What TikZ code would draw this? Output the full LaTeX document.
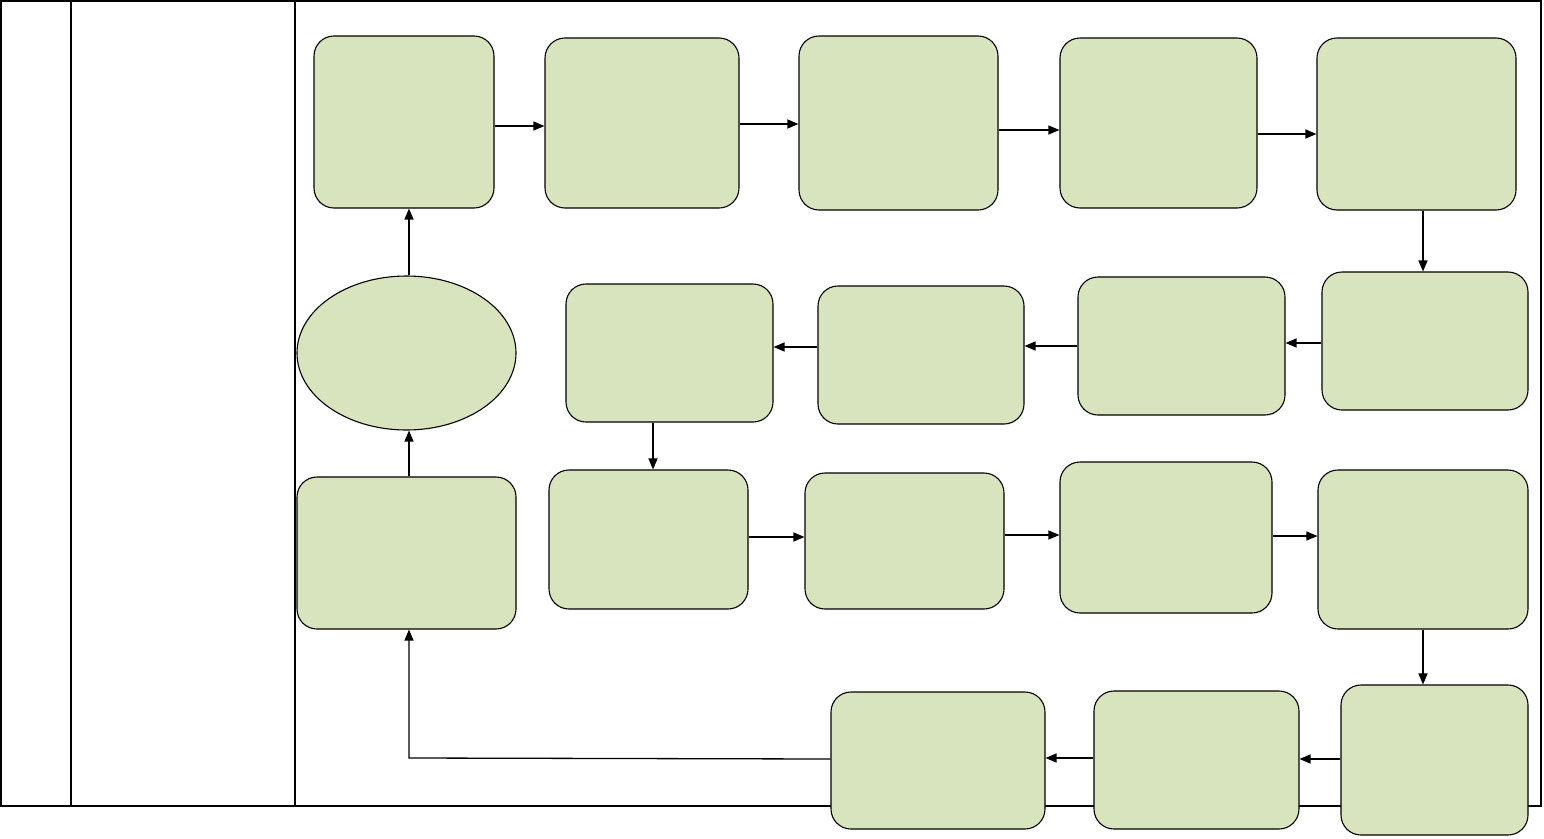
\documentclass[tikz,border=0pt]{standalone}
\usetikzlibrary{arrows.meta,shapes.geometric}
\definecolor{boxgreen}{RGB}{215,228,189}
\tikzset{
  gbox/.style={draw, fill=boxgreen, rounded corners=20pt, line width=1.1pt, inner sep=0pt},
  gell/.style={draw, fill=boxgreen, ellipse, line width=1.1pt, inner sep=0pt},
  arr/.style={line width=1.3pt, -{Triangle[length=11pt,width=9pt]}},
  frame/.style={line width=1.5pt}
}
\begin{document}
\begin{tikzpicture}[x=1pt,y=-1pt]
\useasboundingbox (0,0) rectangle (1544,838);
% table frame
\draw[frame] (1,1) rectangle (1541,806);
\draw[frame] (71,1) -- (71,806);
\draw[frame] (295,1) -- (295,806);
% row 1
\node[gbox, minimum width=180pt, minimum height=172pt] (B1) at (404,122) {};
\node[gbox, minimum width=194pt, minimum height=170pt] (B2) at (642,123) {};
\node[gbox, minimum width=199pt, minimum height=174pt] (B3) at (898.5,123) {};
\node[gbox, minimum width=197pt, minimum height=170pt] (B4) at (1158.5,123) {};
\node[gbox, minimum width=199pt, minimum height=172pt] (B5) at (1416.5,124) {};
% row 2
\node[gbox, minimum width=206pt, minimum height=138pt] (B6) at (1425,341) {};
\node[gbox, minimum width=207pt, minimum height=138pt] (B7) at (1181.5,346) {};
\node[gbox, minimum width=206pt, minimum height=138pt] (B8) at (921,355) {};
\node[gbox, minimum width=207pt, minimum height=138pt] (B9) at (669.5,353) {};
% row 3
\node[gbox, minimum width=199pt, minimum height=139pt] (B10) at (648.5,539.5) {};
\node[gbox, minimum width=199pt, minimum height=136pt] (B11) at (904.5,541) {};
\node[gbox, minimum width=212pt, minimum height=151pt] (B12) at (1166,537.5) {};
\node[gbox, minimum width=210pt, minimum height=159pt] (B13) at (1423,549.5) {};
% row 4
\node[gbox, minimum width=187pt, minimum height=150pt] (B14) at (1434.5,760) {};
\node[gbox, minimum width=205pt, minimum height=138pt] (B15) at (1196.5,760) {};
\node[gbox, minimum width=214pt, minimum height=137pt] (B16) at (938,760.5) {};
% left column
\node[gbox, minimum width=219pt, minimum height=152pt] (B17) at (406.5,553) {};
\node[gell, minimum width=219pt, minimum height=154pt] (E) at (406.5,353) {};
% helper coordinates for arrow heights / positions
\coordinate (y126) at (0,126);
\coordinate (y124) at (0,124);
\coordinate (y130) at (0,130);
\coordinate (y134) at (0,134);
\coordinate (y343) at (0,343);
\coordinate (y346) at (0,346);
\coordinate (y347) at (0,347);
\coordinate (y537) at (0,537);
\coordinate (y535) at (0,535);
\coordinate (y536) at (0,536);
\coordinate (y759) at (0,759);
\coordinate (y758) at (0,758);
\coordinate (x1423) at (1423,0);
\coordinate (x653) at (653,0);
\coordinate (x409) at (409,0);
% row 1 arrows
\draw[arr] (B1.east |- y126) -- (B2.west |- y126);
\draw[arr] (B2.east |- y124) -- (B3.west |- y124);
\draw[arr] (B3.east |- y130) -- (B4.west |- y130);
\draw[arr] (B4.east |- y134) -- (B5.west |- y134);
\draw[arr] (x1423 |- B5.south) -- (x1423 |- B6.north);
% row 2 arrows
\draw[arr] (B6.west |- y343) -- (B7.east |- y343);
\draw[arr] (B7.west |- y346) -- (B8.east |- y346);
\draw[arr] (B8.west |- y347) -- (B9.east |- y347);
\draw[arr] (x653 |- B9.south) -- (x653 |- B10.north);
% row 3 arrows
\draw[arr] (B10.east |- y537) -- (B11.west |- y537);
\draw[arr] (B11.east |- y535) -- (B12.west |- y535);
\draw[arr] (B12.east |- y536) -- (B13.west |- y536);
\draw[arr] (x1423 |- B13.south) -- (x1423 |- B14.north);
% row 4 arrows
\draw[arr] (B14.west |- y759) -- (B15.east |- y759);
\draw[arr] (B15.west |- y758) -- (B16.east |- y758);
\draw[arr] (B16.west |- y759) -- (x409 |- y758) -- (x409 |- B17.south);
% left column arrows
\draw[arr] (x409 |- B17.north) -- (x409 |- E.south);
\draw[arr] (x409 |- E.north) -- (x409 |- B1.south);
\end{tikzpicture}
\end{document}
